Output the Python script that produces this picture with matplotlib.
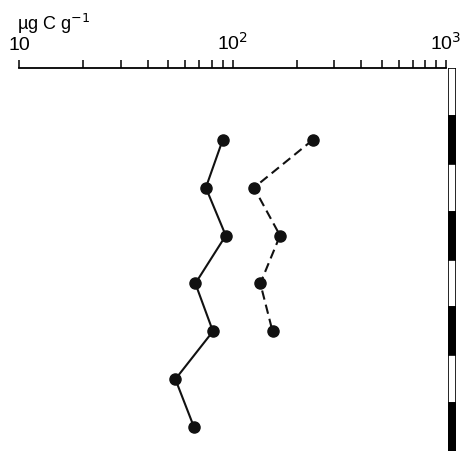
import matplotlib.pyplot as plt
from matplotlib.ticker import FixedLocator, FixedFormatter, LogLocator, NullFormatter

plt.rcParams['font.family'] = ['Liberation Sans', 'DejaVu Sans']

# depth (scale-bar units) and concentrations, ug C g-1
depth_solid = [1.5, 2.5, 3.5, 4.5, 5.5, 6.5, 7.5]
conc_solid = [90, 75, 93, 67, 81, 54, 66]
depth_dashed = [1.5, 2.5, 3.5, 4.5, 5.5]
conc_dashed = [238, 126, 167, 135, 154]

# depth scale bar segments
seg_centers = [0.5, 1.5, 2.5, 3.5, 4.5, 5.5, 6.5, 7.5]
seg_colors = ['white', 'black'] * 4

fig = plt.figure(figsize=(4.68, 4.51), dpi=100)
ax = fig.add_axes([19/468, 0, 427/468, 383/451])

ax.plot(conc_solid, depth_solid, '-o', color='#111111', lw=1.5, ms=8)
ax.plot(conc_dashed, depth_dashed, '--o', color='#111111', lw=1.5, ms=8,
        dashes=(4.5, 2.5))

ax.set_xscale('log')
ax.set_xlim(10, 1000)
ax.set_ylim(8, 0)

for s in ['bottom', 'left', 'right']:
    ax.spines[s].set_visible(False)
ax.spines['top'].set_linewidth(1.3)
ax.set_yticks([])

ax.xaxis.tick_top()
ax.xaxis.set_major_locator(FixedLocator([10, 100, 1000]))
ax.xaxis.set_major_formatter(FixedFormatter(['10', '10$^2$', '10$^3$']))
ax.xaxis.set_minor_locator(LogLocator(base=10, subs=range(2, 10)))
ax.xaxis.set_minor_formatter(NullFormatter())
ax.tick_params(axis='x', which='both', direction='out', length=6, width=1.1,
               labelsize=14, pad=4)

fig.text(17/468, 1 - 30/451, 'µg C g$^{-1}$', fontsize=13, va='baseline')

bx = fig.add_axes([448/468, 0, 8/468, 383/451])
bx.barh(seg_centers, 1, height=1, left=0, color=seg_colors,
        edgecolor='black', lw=1.2)
bx.set_xlim(0, 1)
bx.set_ylim(8, 0)
bx.axis('off')

fig.savefig('out.png', dpi=100)
